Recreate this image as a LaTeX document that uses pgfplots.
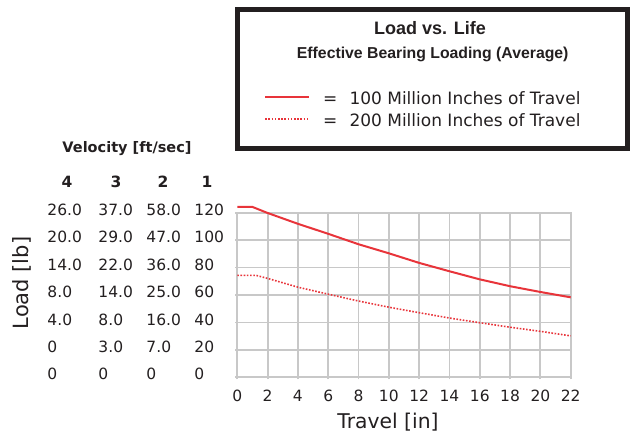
\documentclass[border=0pt]{standalone}
\usepackage{fontspec}
\setmainfont{DejaVu Sans}
\newfontfamily\helv{Liberation Sans}
\usepackage{pgfplots}
\pgfplotsset{compat=1.18}
\definecolor{cred}{RGB}{232,52,58}
\definecolor{cgrid}{RGB}{200,200,200}
\definecolor{ctext}{RGB}{35,31,32}
\newcommand\vrow[4]{\makebox[51pt][l]{#1}\makebox[48pt][l]{#2}\makebox[48pt][l]{#3}\makebox[30pt][l]{#4}}
\begin{document}
\begin{tikzpicture}
\useasboundingbox (0pt,0pt) rectangle (637pt,436pt);
\begin{axis}[
  at={(237.3pt,58.7pt)}, anchor=south west, scale only axis,
  width=333.4pt, height=164.6pt,
  xmin=0, xmax=22, ymin=0, ymax=120,
  clip=false,
  xtick={0,2,...,22}, ytick={0,20,...,120},
  xmajorgrids=true, ymajorgrids=true,
  major grid style={draw=cgrid, line width=1.8pt, solid},
  axis line style={cgrid, line width=1.8pt},
  tick pos=left, tick align=outside, major tick length=2pt,
  major tick style={draw=cgrid, line width=1.8pt},
  /pgf/number format/assume math mode=true,
  xticklabel style={font=\fontsize{15.5}{18}\selectfont, color=ctext, yshift=-7pt},
  yticklabels={{\vrow{0}{0}{0}{0}},{\vrow{0}{3.0}{7.0}{20}},{\vrow{4.0}{8.0}{16.0}{40}},{\vrow{8.0}{14.0}{25.0}{60}},{\vrow{14.0}{22.0}{36.0}{80}},{\vrow{20.0}{29.0}{47.0}{100}},{\vrow{26.0}{37.0}{58.0}{120}}},
  yticklabel style={font=\fontsize{15.5}{18}\selectfont, color=ctext, anchor=west, inner sep=0pt, xshift=-188pt, yshift=3pt},
  xlabel={Travel [in]},
  xlabel style={font=\fontsize{20.3}{24}\selectfont, color=ctext, at={(axis description cs:0.452,-0.271)}, anchor=center},
  ylabel={Load [lb]},
  ylabel style={font=\fontsize{21}{24}\selectfont, color=ctext, at={(axis description cs:-0.6467,0.573)}, anchor=center, rotate=0},
  legend style={at={(axis description cs:0.0801,1.498)}, anchor=south west, draw=none, fill=none, inner sep=0pt,
    font=\fontsize{17}{20}\selectfont, text=ctext, row sep=5pt,
    nodes={inner sep=0pt, text height=13pt, text depth=4pt}},
  legend cell align=left,
  legend image code/.code={\draw[#1] (0pt,3.3pt) -- (44pt,3.3pt);},
]
\addplot[cred, line width=2pt] coordinates {
(0,124.2) (1,124.2) (2,119.8) (4,111.9) (6,104.6) (8,97.0) (10,90.4) (12,83.4) (14,77.3) (16,71.4) (18,66.4) (20,62.2) (22,58.3)};
\addlegendentry{\hspace{13pt}\makebox[26.3pt][l]{=}100 Million Inches of Travel}
\addplot[cred, line width=1.6pt, dash pattern=on 1.6pt off 1.6pt] coordinates {
(0,74.3) (1.25,74.3) (2,72.1) (4,65.7) (6,60.6) (8,55.6) (10,51.1) (12,47.1) (14,43.2) (16,39.8) (18,36.5) (20,33.5) (22,30.2)};
\addlegendentry{\hspace{13pt}\makebox[26.3pt][l]{=}200 Million Inches of Travel}
\end{axis}
\draw[line width=5pt, ctext] (237.5pt,426pt) rectangle (627.5pt,287pt);
\node[font=\helv\bfseries\fontsize{18}{20}\selectfont, anchor=base, ctext] at (430pt,401pt) {Load vs. Life};
\node[font=\helv\bfseries\fontsize{15.8}{18}\selectfont, anchor=base, ctext] at (432.7pt,377.7pt) {Effective Bearing Loading (Average)};
\node[font=\bfseries\fontsize{14.5}{18}\selectfont, ctext] at (127pt,287pt) {Velocity [ft/sec]};
\node[font=\bfseries\fontsize{15.5}{18}\selectfont, ctext] at (67pt,254pt) {4};
\node[font=\bfseries\fontsize{15.5}{18}\selectfont, ctext] at (116pt,254pt) {3};
\node[font=\bfseries\fontsize{15.5}{18}\selectfont, ctext] at (163pt,254pt) {2};
\node[font=\bfseries\fontsize{15.5}{18}\selectfont, ctext] at (207pt,254pt) {1};
\end{tikzpicture}
\end{document}
